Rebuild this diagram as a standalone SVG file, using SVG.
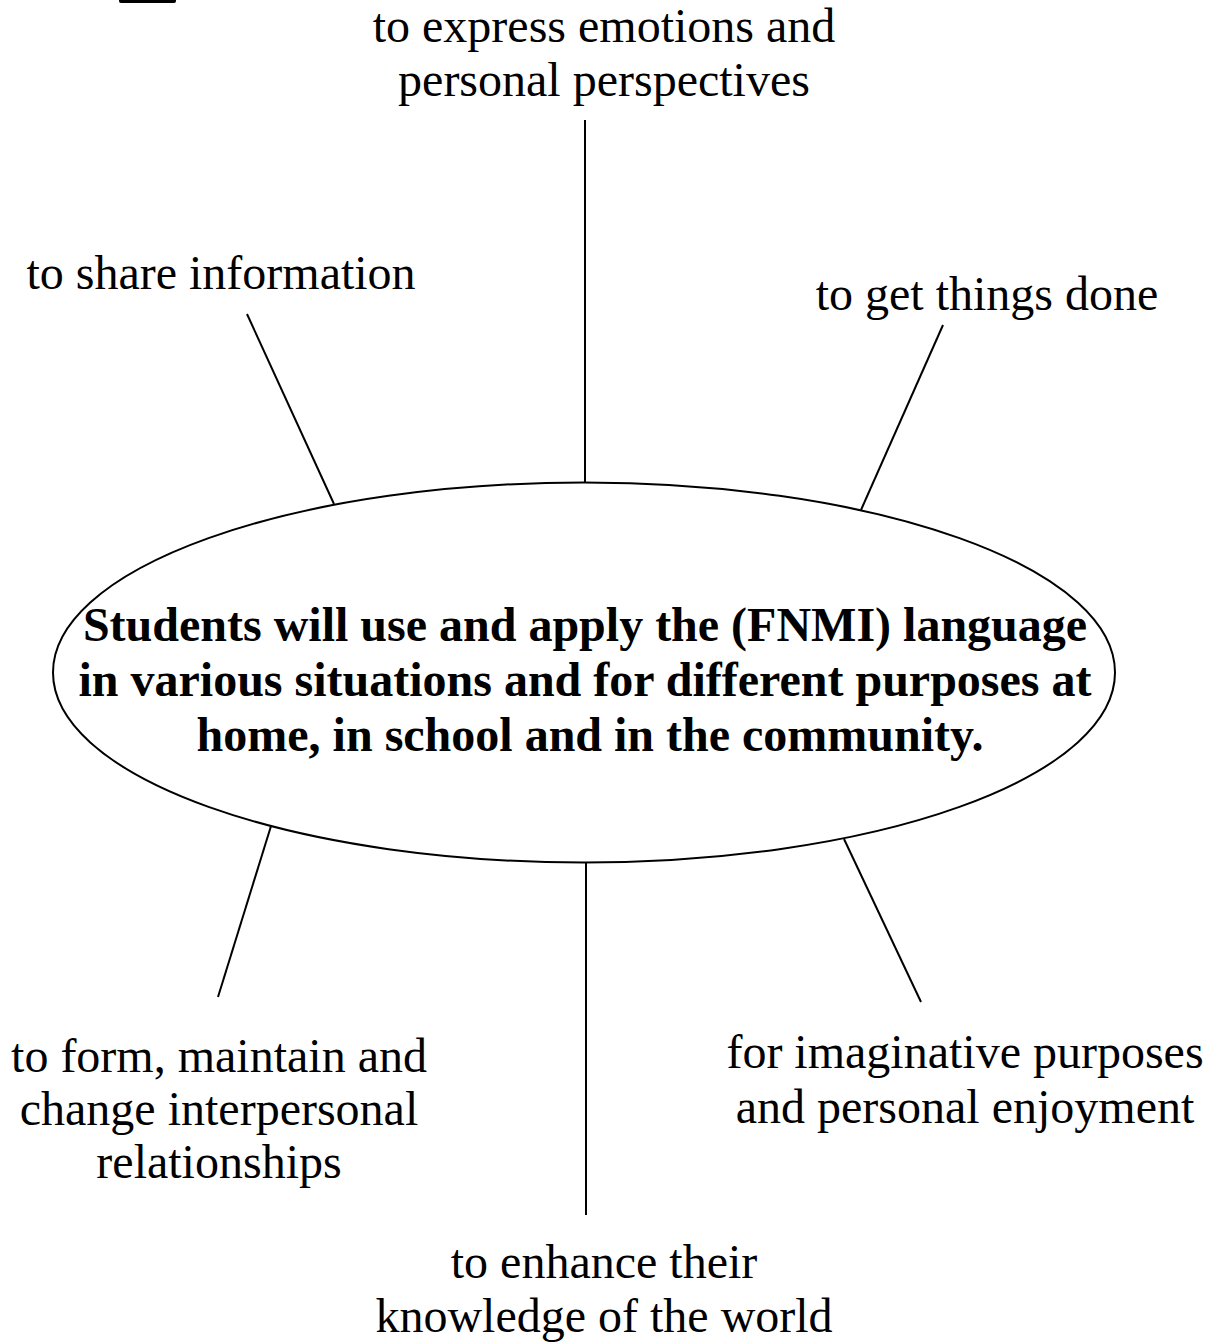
<svg xmlns="http://www.w3.org/2000/svg" width="1215" height="1344" viewBox="0 0 1215 1344">
<style>
.lbl{font-family:"Liberation Serif","Times New Roman",serif;font-size:48px;fill:#000;text-anchor:middle}
.ctr{font-family:"Liberation Serif","Times New Roman",serif;font-size:48px;font-weight:bold;fill:#000;text-anchor:middle}
.ln{stroke:#000;stroke-width:2;fill:none}
</style>
<rect width="1215" height="1344" fill="#fff"/>
<rect x="119" y="-3" width="57" height="6" rx="2" fill="#000"/>
<g id="connectors">
<line class="ln" x1="585" y1="120" x2="585" y2="483"/>
<line class="ln" x1="247" y1="314" x2="334" y2="504"/>
<line class="ln" x1="943" y1="325" x2="861" y2="510"/>
<line class="ln" x1="271" y1="826" x2="218" y2="997"/>
<line class="ln" x1="586" y1="862" x2="586" y2="1215"/>
<line class="ln" x1="844" y1="839" x2="921" y2="1002"/>
</g>
<g id="center">
<ellipse class="ln" cx="584" cy="672.5" rx="531" ry="190"/>
<text class="ctr" x="585" y="641">Students will use and apply the (FNMI) language</text>
<text class="ctr" x="585" y="696">in various situations and for different purposes at</text>
<text class="ctr" x="590" y="751">home, in school and in the community.</text>
</g>
<g id="n-express">
<text class="lbl" x="604" y="42">to express emotions and</text>
<text class="lbl" x="604" y="96">personal perspectives</text>
</g>
<g id="n-share">
<text class="lbl" x="221" y="289">to share information</text>
</g>
<g id="n-done">
<text class="lbl" x="987" y="310">to get things done</text>
</g>
<g id="n-form">
<text class="lbl" x="219" y="1072">to form, maintain and</text>
<text class="lbl" x="219" y="1125">change interpersonal</text>
<text class="lbl" x="219" y="1178">relationships</text>
</g>
<g id="n-imagine">
<text class="lbl" x="965" y="1068">for imaginative purposes</text>
<text class="lbl" x="965" y="1123">and personal enjoyment</text>
</g>
<g id="n-enhance">
<text class="lbl" x="604" y="1278">to enhance their</text>
<text class="lbl" x="604" y="1332">knowledge of the world</text>
</g>
</svg>
